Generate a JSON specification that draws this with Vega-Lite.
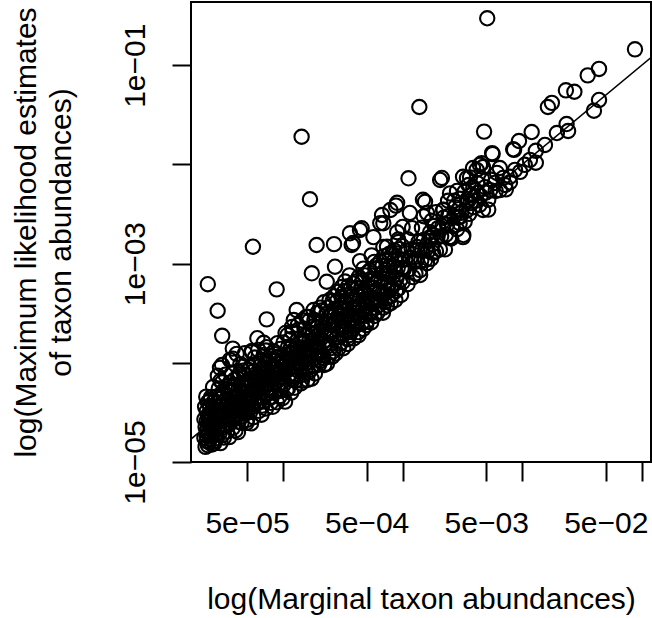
{
  "$schema": "https://vega.github.io/schema/vega-lite/v6.json",
  "width": 460,
  "height": 460,
  "autosize": "none",
  "padding": {"left": 191, "top": 2, "right": 1, "bottom": 156},
  "background": "white",
  "config": {
    "font": "Liberation Sans",
    "view": {"stroke": "black", "strokeWidth": 2, "fill": "white"}
  },
  "encoding": {
    "x": {
      "field": "x",
      "type": "quantitative",
      "scale": {"type": "log", "domain": [1.70e-5, 0.1194], "nice": false, "zero": false},
      "axis": {
        "values": [5e-5, 1e-4, 5e-4, 1e-3, 5e-3, 1e-2, 5e-2, 1e-1],
        "labelExpr": "datum.value > 3e-5 && datum.value < 7e-5 ? '5e−05' : datum.value > 3e-4 && datum.value < 7e-4 ? '5e−04' : datum.value > 3e-3 && datum.value < 7e-3 ? '5e−03' : datum.value > 3e-2 && datum.value < 7e-2 ? '5e−02' : ''",
        "domain": false,
        "grid": false,
        "tickSize": 19,
        "tickWidth": 2,
        "tickColor": "black",
        "labelFontSize": 30,
        "labelColor": "black",
        "labelPadding": 51,
        "labelBaseline": "alphabetic",
        "labelAlign": "center",
        "labelFlush": false,
        "labelOverlap": false,
        "labelBound": false,
        "title": "log(Marginal taxon abundances)",
        "titleFontSize": 30,
        "titleFontWeight": "normal",
        "titleColor": "black",
        "titleX": 230,
        "titleY": 146,
        "titleAlign": "center",
        "titleBaseline": "alphabetic"
      }
    },
    "y": {
      "field": "y",
      "type": "quantitative",
      "scale": {"type": "log", "domain": [1e-5, 0.4335], "nice": false, "zero": false},
      "axis": {
        "values": [1e-5, 1e-4, 1e-3, 1e-2, 1e-1],
        "labelExpr": "datum.value > 5e-6 && datum.value < 2e-5 ? '1e−05' : datum.value > 5e-4 && datum.value < 2e-3 ? '1e−03' : datum.value > 5e-2 && datum.value < 0.2 ? '1e−01' : ''",
        "domain": false,
        "grid": false,
        "tickSize": 19,
        "tickWidth": 2,
        "tickColor": "black",
        "labelFontSize": 30,
        "labelColor": "black",
        "labelAngle": 270,
        "labelPadding": 28,
        "labelBaseline": "alphabetic",
        "labelAlign": "center",
        "labelFlush": false,
        "labelOverlap": false,
        "labelBound": false,
        "title": ["log(Maximum likelihood estimates", "of taxon abundances)"],
        "titleFontSize": 30,
        "titleFontWeight": "normal",
        "titleColor": "black",
        "titleAngle": 270,
        "titleX": -155.5,
        "titleY": 230,
        "titleAlign": "center",
        "titleBaseline": "alphabetic",
        "titleLineHeight": 35
      }
    }
  },
  "layer": [
    {
      "data": {"values": [
        {"x":2.25e-5,"y":1.42e-5},{"x":2.3e-5,"y":1.63e-5},{"x":2.3e-5,"y":2.05e-5},{"x":2.25e-5,"y":2.25e-5},{"x":2.3e-5,"y":2.58e-5},{"x":2.35e-5,"y":2.96e-5},{"x":2.3e-5,"y":3.24e-5},{"x":2.4e-5,"y":1.58e-5},{"x":2.4e-5,"y":1.9e-5},{"x":2.45e-5,"y":2.33e-5},{"x":2.4e-5,"y":2.52e-5},{"x":2.5e-5,"y":3.0e-5},{"x":2.45e-5,"y":3.68e-5},{"x":2.5e-5,"y":1.8e-5},{"x":2.55e-5,"y":2.14e-5},{"x":2.55e-5,"y":2.8e-5},{"x":2.6e-5,"y":1.61e-5},{"x":2.6e-5,"y":2.55e-5},{"x":2.6e-5,"y":3.5e-5},{"x":2.35e-5,"y":4.0e-5},{"x":2.28e-5,"y":4.56e-5},{"x":2.5e-5,"y":4.5e-5},{"x":2.23e-5,"y":3.6e-5},{"x":2.6e-5,"y":5.7e-5},
        {"x":2.2e-5,"y":1.75e-5},{"x":2.35e-5,"y":1.48e-5},{"x":2.45e-5,"y":1.72e-5},{"x":2.2e-5,"y":2.7e-5},{"x":2.5e-5,"y":2.3e-5},{"x":2.4e-5,"y":2.9e-5},{"x":2.55e-5,"y":1.5e-5},{"x":2.3e-5,"y":1.85e-5},
        {"x":2.97e-5,"y":8.9e-5},{"x":3.8e-5,"y":1.39e-4},{"x":3.1e-5,"y":1.87e-4},{"x":2.84e-5,"y":3.35e-4},{"x":2.35e-5,"y":6.2e-4},
        {"x":3.09e-5,"y":9.5e-5},{"x":3.6e-5,"y":1.07e-4},{"x":5.5e-5,"y":1.28e-4},{"x":6.2e-5,"y":1.35e-4},{"x":7.3e-5,"y":1.44e-4},{"x":4.36e-5,"y":7.9e-5},
        {"x":2.45e-5,"y":4.2e-5},{"x":2.65e-5,"y":4.1e-5},{"x":2.9e-5,"y":4.3e-5},{"x":3.15e-5,"y":5.2e-5},{"x":3.55e-5,"y":5.9e-5},{"x":3.95e-5,"y":6.8e-5},{"x":4.3e-5,"y":7.6e-5},{"x":4.75e-5,"y":7.6e-5},{"x":5.15e-5,"y":8.4e-5},{"x":5.7e-5,"y":9.6e-5},{"x":6.4e-5,"y":9.2e-5},{"x":6.9e-5,"y":1.2e-4},{"x":7.8e-5,"y":1.17e-4},{"x":8.6e-5,"y":1.22e-4},{"x":9.5e-5,"y":1.38e-4},
        {"x":3.0e-5,"y":1.55e-5},{"x":4.2e-5,"y":2.0e-5},{"x":5.4e-5,"y":2.45e-5},{"x":6.6e-5,"y":3.0e-5},{"x":8.2e-5,"y":3.6e-5},{"x":9.9e-5,"y":4.4e-5},
        {"x":2.35e-5,"y":2.2e-5},{"x":2.5e-5,"y":2.65e-5},{"x":2.65e-5,"y":2.0e-5},{"x":2.8e-5,"y":2.5e-5},{"x":2.95e-5,"y":2.85e-5},{"x":3.1e-5,"y":2.2e-5},{"x":3.25e-5,"y":3.2e-5},{"x":3.4e-5,"y":2.5e-5},{"x":3.55e-5,"y":3.3e-5},{"x":3.7e-5,"y":2.7e-5},{"x":3.85e-5,"y":3.4e-5},{"x":4.0e-5,"y":4.0e-5},{"x":4.2e-5,"y":3.3e-5},{"x":4.4e-5,"y":4.0e-5},{"x":4.6e-5,"y":3.7e-5},{"x":4.85e-5,"y":4.5e-5},{"x":5.1e-5,"y":4.0e-5},{"x":5.35e-5,"y":4.9e-5},{"x":5.6e-5,"y":4.6e-5},{"x":5.9e-5,"y":5.7e-5},{"x":6.2e-5,"y":5.4e-5},{"x":6.5e-5,"y":6.3e-5},{"x":6.8e-5,"y":6.1e-5},{"x":7.1e-5,"y":6.0e-5},{"x":7.5e-5,"y":7.4e-5},{"x":7.9e-5,"y":6.7e-5},{"x":8.3e-5,"y":7.8e-5},{"x":8.8e-5,"y":7.5e-5},{"x":9.3e-5,"y":8.4e-5},{"x":9.8e-5,"y":8.1e-5},{"x":1.03e-4,"y":9.3e-5},{"x":1.09e-4,"y":8.6e-5},{"x":1.15e-4,"y":1.09e-4},{"x":1.22e-4,"y":1.0e-4},{"x":1.29e-4,"y":1.26e-4},{"x":1.37e-4,"y":1.17e-4},{"x":1.45e-4,"y":1.43e-4},{"x":1.53e-4,"y":1.27e-4},
        {"x":2.65e-5,"y":1.54e-5},{"x":2.7e-5,"y":1.89e-5},{"x":2.7e-5,"y":2.32e-5},{"x":2.75e-5,"y":2.75e-5},{"x":2.7e-5,"y":3.1e-5},{"x":2.8e-5,"y":3.64e-5},{"x":2.8e-5,"y":1.74e-5},{"x":2.85e-5,"y":2.17e-5},{"x":2.9e-5,"y":2.67e-5},{"x":2.9e-5,"y":3.13e-5},{"x":2.95e-5,"y":3.69e-5},{"x":2.95e-5,"y":1.95e-5},{"x":3.0e-5,"y":2.4e-5},{"x":3.0e-5,"y":3.06e-5},{"x":3.05e-5,"y":4.42e-5},{"x":3.1e-5,"y":1.86e-5},{"x":3.1e-5,"y":2.73e-5},{"x":3.15e-5,"y":3.72e-5},{"x":2.75e-5,"y":4.54e-5},{"x":2.9e-5,"y":5.5e-5},{"x":3.0e-5,"y":6.6e-5},{"x":2.85e-5,"y":7.4e-5},{"x":3.1e-5,"y":6.36e-5},
        {"x":3.2e-5,"y":1.76e-5},{"x":3.25e-5,"y":2.34e-5},{"x":3.3e-5,"y":2.97e-5},{"x":3.3e-5,"y":3.63e-5},{"x":3.35e-5,"y":4.29e-5},{"x":3.4e-5,"y":2.04e-5},{"x":3.45e-5,"y":2.83e-5},{"x":3.5e-5,"y":3.5e-5},{"x":3.5e-5,"y":4.2e-5},{"x":3.55e-5,"y":1.78e-5},{"x":3.6e-5,"y":2.45e-5},{"x":3.65e-5,"y":3.14e-5},{"x":3.7e-5,"y":3.89e-5},{"x":3.7e-5,"y":5.18e-5},{"x":3.8e-5,"y":2.2e-5},{"x":3.85e-5,"y":2.96e-5},{"x":3.9e-5,"y":3.7e-5},{"x":3.9e-5,"y":4.49e-5},{"x":3.95e-5,"y":5.3e-5},{"x":3.4e-5,"y":5.44e-5},{"x":3.6e-5,"y":6.3e-5},{"x":3.75e-5,"y":7.9e-5},{"x":3.3e-5,"y":7.6e-5},{"x":3.8e-5,"y":1.1e-4},
        {"x":4.0e-5,"y":2.08e-5},{"x":4.05e-5,"y":2.84e-5},{"x":4.1e-5,"y":3.61e-5},{"x":4.15e-5,"y":4.36e-5},{"x":4.2e-5,"y":5.25e-5},{"x":4.25e-5,"y":2.55e-5},{"x":4.3e-5,"y":3.44e-5},{"x":4.35e-5,"y":4.26e-5},{"x":4.4e-5,"y":5.06e-5},{"x":4.45e-5,"y":6.23e-5},{"x":4.5e-5,"y":2.48e-5},{"x":4.55e-5,"y":3.37e-5},{"x":4.6e-5,"y":4.28e-5},{"x":4.65e-5,"y":5.12e-5},{"x":4.7e-5,"y":6.11e-5},{"x":4.75e-5,"y":3.09e-5},{"x":4.8e-5,"y":4.08e-5},{"x":4.85e-5,"y":4.95e-5},{"x":4.9e-5,"y":5.88e-5},{"x":4.95e-5,"y":2.48e-5},{"x":4.2e-5,"y":6.93e-5},{"x":4.6e-5,"y":8.3e-5},{"x":4.4e-5,"y":9.7e-5},{"x":4.8e-5,"y":1.25e-4},{"x":4.1e-5,"y":1.23e-4},
        {"x":5.0e-5,"y":2.65e-5},{"x":5.05e-5,"y":3.54e-5},{"x":5.1e-5,"y":4.59e-5},{"x":5.2e-5,"y":5.62e-5},{"x":5.25e-5,"y":6.83e-5},{"x":5.3e-5,"y":3.18e-5},{"x":5.4e-5,"y":4.32e-5},{"x":5.45e-5,"y":5.34e-5},{"x":5.5e-5,"y":6.49e-5},{"x":5.6e-5,"y":8.12e-5},{"x":5.65e-5,"y":2.83e-5},{"x":5.7e-5,"y":4.1e-5},{"x":5.8e-5,"y":5.22e-5},{"x":5.85e-5,"y":6.44e-5},{"x":5.9e-5,"y":7.67e-5},{"x":6.0e-5,"y":3.84e-5},{"x":6.05e-5,"y":5.14e-5},{"x":6.1e-5,"y":6.22e-5},{"x":6.2e-5,"y":7.56e-5},{"x":5.3e-5,"y":9.0e-5},{"x":5.8e-5,"y":1.13e-4},{"x":5.5e-5,"y":1.32e-4},{"x":6.1e-5,"y":1.77e-4},{"x":5.6e-5,"y":1.48e-3},
        {"x":6.3e-5,"y":3.28e-5},{"x":6.4e-5,"y":4.48e-5},{"x":6.5e-5,"y":5.72e-5},{"x":6.6e-5,"y":7.0e-5},{"x":6.7e-5,"y":8.44e-5},{"x":6.8e-5,"y":4.08e-5},{"x":6.9e-5,"y":5.52e-5},{"x":7.0e-5,"y":7.0e-5},{"x":7.05e-5,"y":8.32e-5},{"x":7.1e-5,"y":9.94e-5},{"x":7.2e-5,"y":3.46e-5},{"x":7.3e-5,"y":4.96e-5},{"x":7.4e-5,"y":6.66e-5},{"x":7.5e-5,"y":8.25e-5},{"x":7.6e-5,"y":1.0e-4},{"x":7.7e-5,"y":4.47e-5},{"x":7.8e-5,"y":6.08e-5},{"x":6.6e-5,"y":1.06e-4},{"x":7.2e-5,"y":1.33e-4},{"x":6.9e-5,"y":1.59e-4},{"x":7.3e-5,"y":2.74e-4},
        {"x":7.9e-5,"y":3.95e-5},{"x":8.0e-5,"y":5.6e-5},{"x":8.1e-5,"y":7.29e-5},{"x":8.2e-5,"y":8.86e-5},{"x":8.3e-5,"y":1.06e-4},{"x":8.5e-5,"y":5.1e-5},{"x":8.6e-5,"y":7.05e-5},{"x":8.7e-5,"y":8.7e-5},{"x":8.8e-5,"y":1.06e-4},{"x":8.9e-5,"y":4.0e-5},{"x":9.0e-5,"y":5.94e-5},{"x":9.1e-5,"y":7.83e-5},{"x":9.2e-5,"y":9.66e-5},{"x":9.3e-5,"y":1.16e-4},{"x":9.5e-5,"y":5.23e-5},{"x":9.6e-5,"y":7.2e-5},{"x":9.7e-5,"y":9.2e-5},{"x":9.8e-5,"y":1.13e-4},{"x":8.4e-5,"y":1.3e-4},{"x":9.0e-5,"y":1.58e-4},{"x":8.85e-5,"y":5.5e-4},
        {"x":4.2e-5,"y":3.0e-5},{"x":4.6e-5,"y":2.9e-5},{"x":5.0e-5,"y":4.0e-5},{"x":5.6e-5,"y":3.6e-5},{"x":6.2e-5,"y":4.4e-5},{"x":6.7e-5,"y":3.7e-5},{"x":7.4e-5,"y":5.5e-5},{"x":8.0e-5,"y":4.5e-5},{"x":8.8e-5,"y":6.4e-5},{"x":9.4e-5,"y":4.6e-5},
        {"x":1.0e-4,"y":7.0e-5},{"x":1.07e-4,"y":5.3e-5},{"x":1.13e-4,"y":8.6e-5},{"x":1.23e-4,"y":7.4e-5},{"x":1.31e-4,"y":7.4e-5},{"x":1.39e-4,"y":1.23e-4},{"x":1.47e-4,"y":7.6e-5},{"x":1.55e-4,"y":1.4e-4},{"x":1.63e-4,"y":8.0e-5},{"x":1.71e-4,"y":1.35e-4},{"x":1.82e-4,"y":9.2e-5},{"x":1.9e-4,"y":1.3e-4},{"x":1.99e-4,"y":1.9e-4},{"x":2.08e-4,"y":1.05e-4},{"x":2.18e-4,"y":1.45e-4},{"x":2.28e-4,"y":1.9e-4},{"x":2.39e-4,"y":1.15e-4},{"x":2.52e-4,"y":2.15e-4},{"x":2.62e-4,"y":1.3e-4},{"x":2.77e-4,"y":2.6e-4},{"x":2.92e-4,"y":1.4e-4},{"x":3.03e-4,"y":3.1e-4},{"x":3.22e-4,"y":2.25e-4},{"x":3.42e-4,"y":2.1e-4},{"x":3.58e-4,"y":1.9e-4},{"x":3.78e-4,"y":2.2e-4},{"x":3.98e-4,"y":3.5e-4},{"x":4.18e-4,"y":2.6e-4},{"x":4.45e-4,"y":3.0e-4},{"x":4.68e-4,"y":2.2e-4},{"x":4.9e-4,"y":5.0e-4},{"x":5.25e-4,"y":3.1e-4},{"x":5.55e-4,"y":3.9e-4},{"x":5.95e-4,"y":3.6e-4},{"x":6.25e-4,"y":5.0e-4},{"x":6.6e-4,"y":4.3e-4},{"x":7.05e-4,"y":4.1e-4},{"x":7.55e-4,"y":5.3e-4},{"x":8.0e-4,"y":4.7e-4},{"x":8.5e-4,"y":6.2e-4},{"x":9.2e-4,"y":5.6e-4},
        {"x":1.04e-4,"y":4.06e-5},{"x":1.02e-4,"y":6.1e-5},{"x":1.04e-4,"y":8.1e-5},{"x":1.06e-4,"y":1.0e-4},{"x":1.08e-4,"y":1.21e-4},{"x":1.1e-4,"y":1.43e-4},{"x":1.1e-4,"y":5.5e-5},{"x":1.12e-4,"y":7.6e-5},{"x":1.14e-4,"y":1.0e-4},{"x":1.16e-4,"y":1.22e-4},{"x":1.18e-4,"y":1.44e-4},{"x":1.2e-4,"y":6.7e-5},{"x":1.21e-4,"y":9.1e-5},{"x":1.22e-4,"y":1.12e-4},{"x":1.24e-4,"y":1.36e-4},{"x":1.25e-4,"y":5.6e-5},{"x":1.15e-4,"y":1.73e-4},{"x":1.2e-4,"y":2.04e-4},{"x":1.05e-4,"y":2.0e-4},{"x":1.23e-4,"y":2.7e-4},
        {"x":1.09e-4,"y":1.9e-4},{"x":1.17e-4,"y":5.0e-5},{"x":1.19e-4,"y":2.3e-4},{"x":1.01e-4,"y":1.6e-4},
        {"x":1.27e-4,"y":6.6e-5},{"x":1.28e-4,"y":9.0e-5},{"x":1.3e-4,"y":1.17e-4},{"x":1.32e-4,"y":1.43e-4},{"x":1.34e-4,"y":1.74e-4},{"x":1.36e-4,"y":8.2e-5},{"x":1.38e-4,"y":1.1e-4},{"x":1.4e-4,"y":1.37e-4},{"x":1.42e-4,"y":1.65e-4},{"x":1.44e-4,"y":6.6e-5},{"x":1.46e-4,"y":9.9e-5},{"x":1.48e-4,"y":1.3e-4},{"x":1.5e-4,"y":1.58e-4},{"x":1.52e-4,"y":1.9e-4},{"x":1.54e-4,"y":8.5e-5},{"x":1.56e-4,"y":1.17e-4},{"x":1.35e-4,"y":2.16e-4},{"x":1.45e-4,"y":2.68e-4},{"x":1.43e-4,"y":0.019},{"x":1.3e-4,"y":3.4e-4},
        {"x":1.33e-4,"y":2.4e-4},{"x":1.41e-4,"y":6.2e-5},{"x":1.51e-4,"y":2.2e-4},{"x":1.57e-4,"y":2.9e-4},
        {"x":1.6e-4,"y":6.7e-5},{"x":1.62e-4,"y":1.0e-4},{"x":1.64e-4,"y":1.31e-4},{"x":1.66e-4,"y":1.66e-4},{"x":1.68e-4,"y":2.02e-4},{"x":1.7e-4,"y":8.5e-5},{"x":1.72e-4,"y":1.2e-4},{"x":1.75e-4,"y":1.58e-4},{"x":1.78e-4,"y":1.96e-4},{"x":1.8e-4,"y":2.34e-4},{"x":1.85e-4,"y":7.8e-5},{"x":1.85e-4,"y":1.11e-4},{"x":1.87e-4,"y":1.5e-4},{"x":1.9e-4,"y":1.86e-4},{"x":1.92e-4,"y":2.27e-4},{"x":1.95e-4,"y":1.07e-4},{"x":1.97e-4,"y":1.48e-4},{"x":1.68e-4,"y":4.45e-3},{"x":1.74e-4,"y":7.98e-4},{"x":1.91e-4,"y":1.54e-3},{"x":1.65e-4,"y":2.64e-4},{"x":1.8e-4,"y":3.4e-4},
        {"x":1.63e-4,"y":2.9e-4},{"x":1.73e-4,"y":6.9e-5},{"x":1.83e-4,"y":2.7e-4},{"x":1.94e-4,"y":3.2e-4},
        {"x":2.0e-4,"y":9.6e-5},{"x":2.03e-4,"y":1.34e-4},{"x":2.06e-4,"y":1.75e-4},{"x":2.1e-4,"y":2.14e-4},{"x":2.13e-4,"y":2.6e-4},{"x":2.16e-4,"y":1.19e-4},{"x":2.2e-4,"y":1.65e-4},{"x":2.23e-4,"y":2.1e-4},{"x":2.26e-4,"y":2.53e-4},{"x":2.3e-4,"y":3.1e-4},{"x":2.33e-4,"y":9.8e-5},{"x":2.36e-4,"y":1.46e-4},{"x":2.4e-4,"y":1.97e-4},{"x":2.43e-4,"y":2.43e-4},{"x":2.46e-4,"y":2.95e-4},{"x":2.1e-4,"y":3.36e-4},{"x":2.32e-4,"y":6.56e-4},{"x":2.2e-4,"y":4.07e-4},{"x":2.17e-4,"y":1.11e-4},
        {"x":2.04e-4,"y":3.6e-4},{"x":2.21e-4,"y":9.5e-5},{"x":2.38e-4,"y":3.6e-4},{"x":2.45e-4,"y":4.3e-4},
        {"x":2.5e-4,"y":1.4e-4},{"x":2.55e-4,"y":1.91e-4},{"x":2.6e-4,"y":2.39e-4},{"x":2.65e-4,"y":2.92e-4},{"x":2.7e-4,"y":3.51e-4},{"x":2.75e-4,"y":1.24e-4},{"x":2.8e-4,"y":1.79e-4},{"x":2.85e-4,"y":2.37e-4},{"x":2.9e-4,"y":2.96e-4},{"x":2.95e-4,"y":3.6e-4},{"x":3.0e-4,"y":1.56e-4},{"x":3.05e-4,"y":2.2e-4},{"x":3.1e-4,"y":2.79e-4},{"x":3.15e-4,"y":3.47e-4},{"x":2.67e-4,"y":1.57e-3},{"x":2.72e-4,"y":9.3e-4},{"x":3.19e-4,"y":1.4e-4},{"x":2.6e-4,"y":4.2e-4},{"x":2.9e-4,"y":5.2e-4},
        {"x":2.58e-4,"y":1.15e-4},{"x":2.68e-4,"y":4.7e-4},{"x":2.83e-4,"y":4.2e-4},{"x":3.08e-4,"y":4.6e-4},{"x":3.1e-4,"y":5.8e-4},
        {"x":3.2e-4,"y":1.92e-4},{"x":3.25e-4,"y":2.6e-4},{"x":3.3e-4,"y":3.3e-4},{"x":3.35e-4,"y":4.0e-4},{"x":3.4e-4,"y":4.76e-4},{"x":3.45e-4,"y":1.73e-4},{"x":3.5e-4,"y":2.45e-4},{"x":3.55e-4,"y":3.12e-4},{"x":3.6e-4,"y":3.8e-4},{"x":3.65e-4,"y":4.6e-4},{"x":3.7e-4,"y":2.04e-4},{"x":3.75e-4,"y":2.85e-4},{"x":3.8e-4,"y":3.6e-4},{"x":3.85e-4,"y":4.4e-4},{"x":3.9e-4,"y":1.76e-4},{"x":3.95e-4,"y":2.6e-4},{"x":3.75e-4,"y":1.54e-3},{"x":3.63e-4,"y":2.02e-3},{"x":3.5e-4,"y":5.9e-4},{"x":3.3e-4,"y":6.6e-4},{"x":3.85e-4,"y":1.61e-3},
        {"x":3.28e-4,"y":5.3e-4},{"x":3.48e-4,"y":1.55e-4},{"x":3.68e-4,"y":5.6e-4},{"x":3.88e-4,"y":6.3e-4},{"x":3.6e-4,"y":7.6e-4},
        {"x":4.0e-4,"y":2.32e-4},{"x":4.05e-4,"y":3.16e-4},{"x":4.1e-4,"y":3.94e-4},{"x":4.15e-4,"y":4.77e-4},{"x":4.2e-4,"y":5.7e-4},{"x":4.25e-4,"y":2.04e-4},{"x":4.3e-4,"y":2.92e-4},{"x":4.35e-4,"y":3.83e-4},{"x":4.4e-4,"y":4.66e-4},{"x":4.5e-4,"y":5.67e-4},{"x":4.55e-4,"y":2.5e-4},{"x":4.6e-4,"y":3.4e-4},{"x":4.7e-4,"y":4.32e-4},{"x":4.75e-4,"y":5.32e-4},{"x":4.8e-4,"y":2.98e-4},{"x":4.9e-4,"y":4.0e-4},{"x":4.55e-4,"y":2.27e-3},{"x":4.3e-4,"y":7.3e-4},{"x":4.7e-4,"y":8.9e-4},{"x":4.4e-4,"y":1.06e-3},{"x":4.4e-4,"y":2.18e-3},
        {"x":4.08e-4,"y":6.6e-4},{"x":4.28e-4,"y":1.9e-4},{"x":4.62e-4,"y":6.8e-4},{"x":4.85e-4,"y":7.6e-4},{"x":4.95e-4,"y":2.4e-4},
        {"x":5.0e-4,"y":2.6e-4},{"x":5.1e-4,"y":3.67e-4},{"x":5.2e-4,"y":4.78e-4},{"x":5.3e-4,"y":5.83e-4},{"x":5.4e-4,"y":7.0e-4},{"x":5.5e-4,"y":3.3e-4},{"x":5.6e-4,"y":4.48e-4},{"x":5.7e-4,"y":5.7e-4},{"x":5.8e-4,"y":6.96e-4},{"x":5.8e-4,"y":2.96e-4},{"x":6.0e-4,"y":4.2e-4},{"x":6.1e-4,"y":5.5e-4},{"x":6.2e-4,"y":6.8e-4},{"x":5.3e-4,"y":8.5e-4},{"x":5.8e-4,"y":1.04e-3},{"x":5.5e-4,"y":1.21e-3},{"x":5.7e-4,"y":1.85e-3},
        {"x":5.15e-4,"y":8.2e-4},{"x":5.45e-4,"y":2.55e-4},{"x":5.9e-4,"y":8.9e-4},{"x":6.15e-4,"y":3.2e-4},{"x":6.05e-4,"y":9.6e-4},
        {"x":6.3e-4,"y":3.8e-4},{"x":6.45e-4,"y":5.16e-4},{"x":6.6e-4,"y":6.6e-4},{"x":6.7e-4,"y":8.0e-4},{"x":6.8e-4,"y":9.5e-4},{"x":6.9e-4,"y":3.6e-4},{"x":7.0e-4,"y":5.0e-4},{"x":7.1e-4,"y":6.5e-4},{"x":7.2e-4,"y":7.9e-4},{"x":7.35e-4,"y":9.6e-4},{"x":7.5e-4,"y":4.5e-4},{"x":7.6e-4,"y":6.1e-4},{"x":7.7e-4,"y":7.7e-4},{"x":7.8e-4,"y":9.4e-4},{"x":6.73e-4,"y":3.09e-3},{"x":6.9e-4,"y":2.55e-3},{"x":7.0e-4,"y":1.19e-3},{"x":7.4e-4,"y":1.48e-3},{"x":6.5e-4,"y":2.56e-3},{"x":6.9e-4,"y":1.47e-3},
        {"x":6.5e-4,"y":1.05e-3},{"x":6.85e-4,"y":3.2e-4},{"x":7.3e-4,"y":1.1e-3},{"x":7.7e-4,"y":1.25e-3},{"x":7.4e-4,"y":3.8e-4},
        {"x":7.95e-4,"y":3.98e-4},{"x":8.1e-4,"y":5.67e-4},{"x":8.3e-4,"y":7.5e-4},{"x":8.4e-4,"y":9.1e-4},{"x":8.6e-4,"y":1.1e-3},{"x":8.8e-4,"y":5.3e-4},{"x":8.9e-4,"y":7.1e-4},{"x":9.1e-4,"y":9.1e-4},{"x":9.3e-4,"y":1.12e-3},{"x":9.7e-4,"y":4.82e-4},{"x":9.6e-4,"y":6.9e-4},{"x":9.8e-4,"y":9.0e-4},{"x":9.9e-4,"y":1.09e-3},{"x":8.8e-4,"y":3.84e-3},{"x":8.5e-4,"y":1.36e-3},{"x":9.2e-4,"y":1.75e-3},{"x":9.0e-4,"y":2.07e-3},{"x":7.9e-4,"y":3.47e-3},{"x":9.0e-4,"y":4.1e-3},{"x":9.2e-4,"y":1.65e-3},
        {"x":8.2e-4,"y":1.25e-3},{"x":8.7e-4,"y":4.3e-4},{"x":9.4e-4,"y":1.4e-3},{"x":9.9e-4,"y":1.5e-3},
        {"x":1.0e-3,"y":6.5e-4},{"x":1.02e-3,"y":8.7e-4},{"x":1.05e-3,"y":1.1e-3},{"x":1.08e-3,"y":1.35e-3},{"x":1.1e-3,"y":6.2e-4},{"x":1.13e-3,"y":8.8e-4},{"x":1.16e-3,"y":1.14e-3},{"x":1.19e-3,"y":1.4e-3},{"x":1.22e-3,"y":7.3e-4},{"x":1.25e-3,"y":1.06e-3},{"x":1.12e-3,"y":7.24e-3},{"x":1.1e-3,"y":1.76e-3},{"x":1.2e-3,"y":2.28e-3},{"x":1.0e-3,"y":2.34e-3},{"x":1.15e-3,"y":3.24e-3},
        {"x":1.28e-3,"y":7.9e-4},{"x":1.3e-3,"y":1.07e-3},{"x":1.33e-3,"y":1.36e-3},{"x":1.36e-3,"y":1.66e-3},{"x":1.4e-3,"y":7.67e-4},{"x":1.43e-3,"y":1.07e-3},{"x":1.46e-3,"y":1.39e-3},{"x":1.5e-3,"y":1.73e-3},{"x":1.54e-3,"y":1.08e-3},{"x":1.56e-3,"y":1.4e-3},{"x":1.38e-3,"y":0.0379},{"x":1.54e-3,"y":4.2e-3},{"x":1.45e-3,"y":2.3e-3},{"x":1.5e-3,"y":3.0e-3},{"x":1.48e-3,"y":4.4e-3},{"x":1.32e-3,"y":1.47e-3},{"x":1.4e-3,"y":8.6e-4},
        {"x":1.6e-3,"y":1.01e-3},{"x":1.63e-3,"y":1.34e-3},{"x":1.66e-3,"y":1.69e-3},{"x":1.7e-3,"y":2.07e-3},{"x":1.73e-3,"y":1.12e-3},{"x":1.77e-3,"y":1.56e-3},{"x":1.8e-3,"y":1.94e-3},{"x":1.85e-3,"y":2.4e-3},{"x":1.9e-3,"y":1.33e-3},{"x":1.95e-3,"y":1.85e-3},{"x":1.98e-3,"y":2.28e-3},{"x":1.75e-3,"y":2.7e-3},{"x":1.9e-3,"y":3.3e-3},{"x":1.6e-3,"y":3.24e-3},{"x":1.7e-3,"y":1.85e-3},{"x":1.8e-3,"y":1.28e-3},
        {"x":2.05e-3,"y":1.39e-3},{"x":2.1e-3,"y":1.89e-3},{"x":2.15e-3,"y":2.37e-3},{"x":2.2e-3,"y":2.9e-3},{"x":2.26e-3,"y":1.39e-3},{"x":2.3e-3,"y":1.96e-3},{"x":2.35e-3,"y":2.47e-3},{"x":2.4e-3,"y":3.0e-3},{"x":2.45e-3,"y":1.84e-3},{"x":2.06e-3,"y":6.97e-3},{"x":2.49e-3,"y":5.1e-3},{"x":2.2e-3,"y":3.5e-3},{"x":2.4e-3,"y":4.3e-3},{"x":2.13e-3,"y":7.3e-3},{"x":2.18e-3,"y":3.47e-3},{"x":2.49e-3,"y":1.85e-3},
        {"x":2.55e-3,"y":1.79e-3},{"x":2.6e-3,"y":2.39e-3},{"x":2.7e-3,"y":3.0e-3},{"x":2.75e-3,"y":3.7e-3},{"x":2.85e-3,"y":2.22e-3},{"x":2.9e-3,"y":2.9e-3},{"x":2.95e-3,"y":3.54e-3},{"x":3.0e-3,"y":2.55e-3},{"x":3.1e-3,"y":3.26e-3},{"x":3.22e-3,"y":1.94e-3},{"x":2.7e-3,"y":4.3e-3},{"x":3.0e-3,"y":4.5e-3},{"x":2.85e-3,"y":5.4e-3},{"x":3.02e-3,"y":2.95e-3},{"x":3.2e-3,"y":1.85e-3},{"x":3.2e-3,"y":7.5e-3},
        {"x":3.3e-3,"y":2.64e-3},{"x":3.4e-3,"y":3.4e-3},{"x":3.5e-3,"y":4.2e-3},{"x":3.6e-3,"y":3.17e-3},{"x":3.7e-3,"y":4.07e-3},{"x":3.8e-3,"y":4.94e-3},{"x":3.9e-3,"y":3.7e-3},{"x":3.66e-3,"y":7.4e-3},{"x":3.55e-3,"y":6.2e-3},{"x":3.9e-3,"y":5.85e-3},{"x":3.3e-3,"y":5.3e-3},{"x":3.45e-3,"y":7.3e-3},{"x":3.88e-3,"y":9.2e-3},{"x":3.45e-3,"y":4.4e-3},{"x":3.66e-3,"y":4.9e-3},
        {"x":4.43e-3,"y":9.9e-3},{"x":4.7e-3,"y":3.47e-3},{"x":4.2e-3,"y":5.15e-3},{"x":5.4e-3,"y":5.5e-3},{"x":4.7e-3,"y":9.4e-3},{"x":4.2e-3,"y":6.5e-3},{"x":5.2e-3,"y":4.4e-3},{"x":4.9e-3,"y":5.9e-3},{"x":5.9e-3,"y":6.5e-3},{"x":5.6e-3,"y":0.013},{"x":4.1e-3,"y":4.3e-3},{"x":4.5e-3,"y":4.8e-3},{"x":5.0e-3,"y":5.2e-3},{"x":4.8e-3,"y":0.0214},{"x":5.1e-3,"y":0.297},{"x":6.15e-3,"y":8.2e-3},{"x":4.4e-3,"y":3.9e-3},{"x":5.5e-3,"y":7.0e-3},{"x":6.0e-3,"y":5.4e-3},{"x":4.6e-3,"y":7.2e-3},{"x":5.2e-3,"y":3.5e-3},{"x":4.58e-3,"y":0.0103},{"x":4.16e-3,"y":8.8e-3},{"x":5.66e-3,"y":0.0127},
        {"x":6.5e-3,"y":5.5e-3},{"x":7.2e-3,"y":6.2e-3},{"x":7.9e-3,"y":6.6e-3},{"x":6.9e-3,"y":7.3e-3},{"x":6.5e-3,"y":9.2e-3},{"x":7.9e-3,"y":7.5e-3},{"x":8.7e-3,"y":8.8e-3},{"x":8.55e-3,"y":0.014},{"x":9.4e-3,"y":0.0172},{"x":9.6e-3,"y":8.4e-3},{"x":7.3e-3,"y":5.6e-3},{"x":8.4e-3,"y":0.0142},
        {"x":0.0105,"y":9.9e-3},{"x":0.0116,"y":0.0111},{"x":0.012,"y":0.0212},{"x":0.0155,"y":0.0157},{"x":0.013,"y":0.0137},{"x":0.013,"y":0.0104},{"x":0.0195,"y":0.0207},{"x":0.0235,"y":0.0255},{"x":0.0242,"y":0.0217},{"x":0.0164,"y":0.0379},{"x":0.0177,"y":0.0417},{"x":0.0232,"y":0.0558},{"x":0.0273,"y":0.054},{"x":0.0439,"y":0.0917},{"x":0.0353,"y":0.079},{"x":0.0439,"y":0.0446},{"x":0.0398,"y":0.0348},{"x":0.0877,"y":0.1445}
      ]},
      "mark": {"type": "point", "shape": "circle", "filled": false, "color": "black", "size": 205, "strokeWidth": 2.1, "opacity": 1}
    },
    {
      "data": {"values": [{"x": 1.70e-5, "y": 1.70e-5}, {"x": 0.1194, "y": 0.1194}]},
      "mark": {"type": "line", "color": "black", "strokeWidth": 1.6, "clip": true}
    }
  ]
}
